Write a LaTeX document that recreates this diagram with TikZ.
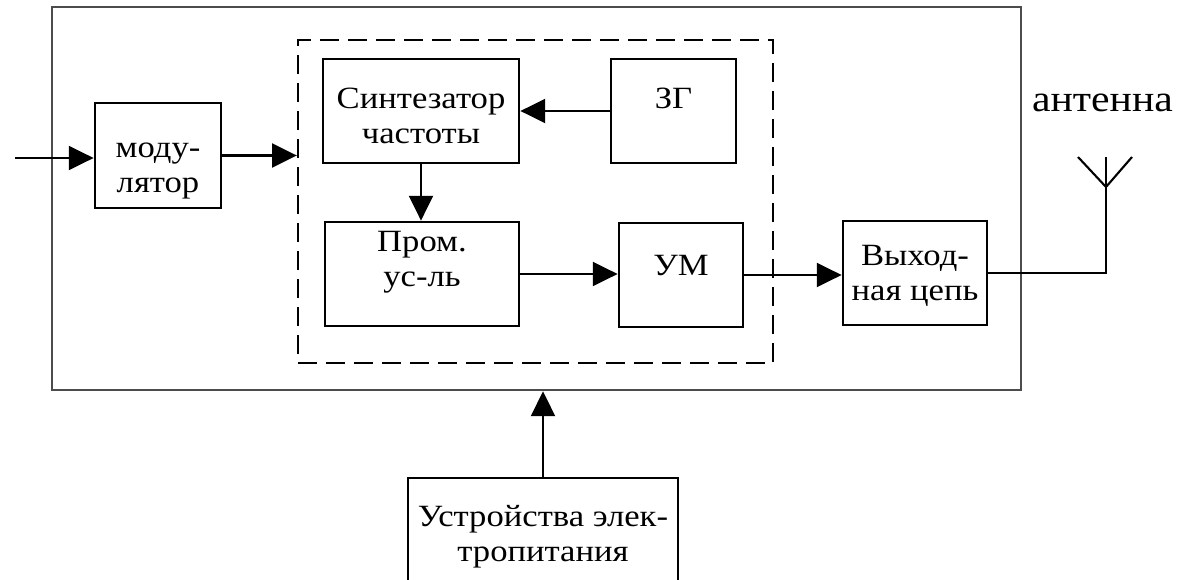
\documentclass[tikz,border=0pt]{standalone}
\usepackage{fontspec}
\setmainfont{Liberation Serif}[FakeStretch=1.12]
\usetikzlibrary{arrows.meta}

\tikzset{
  blok/.style={draw, line width=2pt, align=center, inner sep=0pt,
               font=\fontsize{22}{25}\selectfont},
  strelka/.style={line width=1.5pt, -{Triangle[length=0.62cm, width=0.6cm]}},
  linija/.style={line width=1.5pt}
}

\begin{document}
\begin{tikzpicture}
                    \useasboundingbox (0,0) rectangle (29.5,-14.5);

                    % корпус передатчика и пунктирный блок
                    \node[draw, black!70, line width=1.9pt, minimum width=24.225cm, minimum height=9.575cm] (korpus) at (13.4125,-4.9625) {};
                    \node[draw, line width=1.7pt, dash pattern=on 0.475cm off 0.225cm, minimum width=11.875cm, minimum height=8.075cm] (blok) at (13.3875,-5.0375) {};

                    % блоки
                    \node[blok, minimum width=3.15cm, minimum height=2.625cm, text height=57pt] (mod) at (3.95,-3.8875) {моду-\\лятор};
                    \node[blok, minimum width=4.9cm, minimum height=2.6cm, text height=46pt] (sint) at (10.525,-2.775) {Синтезатор\\частоты};
                    \node[blok, minimum width=3.125cm, minimum height=2.6cm, text depth=18pt] (zg) at (16.8375,-2.775) {ЗГ};
                    \node[blok, minimum width=4.85cm, minimum height=2.6cm, text depth=22pt] (prom) at (10.55,-6.85) {Пром.\\ус-ль};
                    \node[blok, minimum width=3.1cm, minimum height=2.6cm, text depth=14pt] (um) at (17.025,-6.875) {УМ};
                    \node[blok, minimum width=3.6cm, minimum height=2.6cm, text height=44pt] (vyh) at (22.875,-6.825) {Выход-\\ная цепь};
                    \node[blok, minimum width=6.75cm, minimum height=2.95cm] (pit) at (13.575,-13.425) {Устройства элек-\\тропитания};

                    % антенна
                    \coordinate (vhod) at (0.375,-3.95);
                    \coordinate (antN) at (27.65,-3.925);
                    \coordinate (antV) at (27.65,-4.675);
                    \coordinate (antL) at (26.95,-3.925);
                    \coordinate (antR) at (28.3,-3.925);
                    \node[anchor=base, font=\fontsize{26.5}{30}\selectfont] (antenna) at (27.5625,-2.8) {антенна};

                    % связи
                    \draw[strelka] (vhod) -- (vhod -| mod.west);
                    \draw[strelka] (mod.east) -- (mod.east -| blok.west);
                    \draw[strelka] (zg.west) -- (sint.east);
                    \draw[strelka] (sint.south) -- (sint.south |- prom.north);
                    \draw[strelka] (prom.east) -- (prom.east -| um.west);
                    \draw[strelka] (um.east) -- (um.east -| vyh.west);
                    \draw[strelka] (pit.north) -- (pit.north |- korpus.south);
                    \draw[linija] (vyh.east) -| (antN);
                    \draw[linija] (antL) -- (antV) -- (antR);
                \end{tikzpicture}
\end{document}
